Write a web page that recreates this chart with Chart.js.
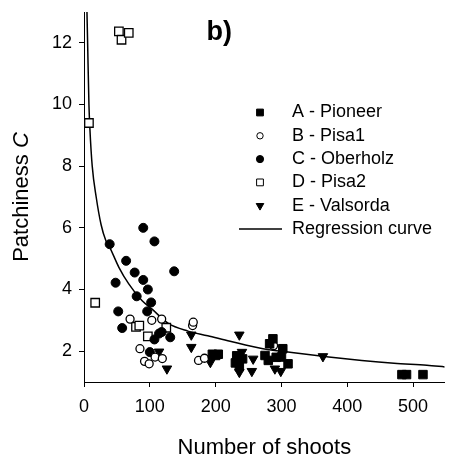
<!DOCTYPE html>
<html>
<head>
<meta charset="utf-8">
<script src="https://cdn.jsdelivr.net/npm/chart.js@4.4.1/dist/chart.umd.min.js"></script>
<style>
  body { margin: 0; background: #fff; }
  #wrap { width: 452px; height: 460px; }
</style>
</head>
<body>
<div id="wrap"><canvas id="myChart" width="452" height="460"></canvas></div>
<script>
// number of shoots (x) and patchiness C (y) for each site
var pioneerN = [195, 200, 204, 230, 232, 236, 241, 275, 280, 282, 287, 292, 300, 302, 310, 483, 490, 515];
var pioneerC = [1.9, 1.86, 1.9, 1.62, 1.85, 1.5, 1.75, 1.86, 1.7, 2.24, 2.4, 1.8, 1.81, 2.08, 1.59, 1.24, 1.24, 1.24];

var pisa1N = [70, 103, 118, 85, 92, 99, 108, 119, 165, 166, 174, 183, 288];
var pisa1C = [3.04, 3.0, 3.04, 2.08, 1.67, 1.59, 1.81, 1.76, 2.83, 2.94, 1.7, 1.77, 2.18];

var oberholzN = [39, 48, 52, 58, 64, 77, 80, 90, 90, 96, 97, 102, 100, 107, 107, 114, 118, 131, 137];
var oberholzC = [5.47, 4.22, 3.29, 2.75, 4.93, 4.55, 3.78, 6.0, 4.31, 3.29, 4.0, 3.58, 1.97, 5.56, 2.38, 2.57, 2.62, 2.45, 4.59];

var pisa2N = [7.5, 53, 57, 68, 17, 79, 84, 97, 125];
var pisa2C = [9.4, 12.37, 12.1, 12.32, 3.57, 2.79, 2.83, 2.48, 2.76];

var valsordaN = [114, 126, 163, 163, 192, 236, 240, 236, 255, 257, 290, 299, 363];
var valsordaC = [1.98, 1.43, 2.53, 2.13, 1.64, 2.53, 1.97, 1.32, 1.35, 1.75, 1.43, 1.35, 1.83];

// regression curve, traced point by point
var curveN = [4.5, 5.5, 7.5, 9, 12.5, 18.5, 26, 33, 38.4, 53, 68, 88, 103, 128, 158, 188, 222, 272, 322, 372, 422, 471, 521, 548];
var curveC = [13.0, 12.0, 10.0, 9.2, 8.0, 7.0, 6.1, 5.6, 5.4, 4.72, 4.18, 3.64, 3.37, 2.9, 2.65, 2.5, 2.32, 2.08, 1.94, 1.81, 1.70, 1.61, 1.54, 1.49];

var seriesLabels = ["A - Pioneer", "B - Pisa1", "C - Oberholz", "D - Pisa2", "E - Valsorda", "Regression curve"];
var xTicks = [0, 100, 200, 300, 400, 500];
var yTicks = [2, 4, 6, 8, 10, 12];
var xTitle = "Number of shoots";
var yTitle = "Patchiness ";
var yTitleItalic = "C";
var panelLabel = "b)";

var fontFamily = "Arial, 'Liberation Sans', sans-serif";

function pts(xs, ys) {
  return xs.map(function (x, i) {
    return { x: x, y: ys[i] };
  });
}

// legend, y title and panel letter drawn on top of the chart
var extras = {
  id: "extras",
  afterDraw: function (chart) {
    var ctx = chart.ctx;
    ctx.save();
    ctx.fillStyle = "#000";
    ctx.strokeStyle = "#000";
    ctx.textBaseline = "middle";

    // legend
    ctx.font = "18px " + fontFamily;
    chart.data.datasets.forEach(function (ds, i) {
      var y = 112.5 + i * 23.3;
      if (ds.showLine) {
        ctx.lineWidth = 1.5;
        ctx.beginPath();
        ctx.moveTo(239, y);
        ctx.lineTo(282, y);
        ctx.stroke();
      } else {
        ctx.fillStyle = ds.pointBackgroundColor;
        ctx.strokeStyle = "#000";
        Chart.helpers.drawPoint(ctx, {
          pointStyle: ds.pointStyle,
          rotation: ds.pointRotation || 0,
          radius: ds.pointRadius * 0.8,
          borderWidth: ds.pointBorderWidth
        }, 260, y);
      }
      ctx.fillStyle = "#000";
      ctx.textAlign = "left";
      ctx.fillText(ds.label, 292, y);
    });

    // panel letter
    ctx.font = "bold 27px " + fontFamily;
    ctx.textBaseline = "alphabetic";
    ctx.fillText(panelLabel, 206.5, 40);

    // y title with italic C
    ctx.textBaseline = "middle";
    ctx.translate(22, 197);
    ctx.rotate(-Math.PI / 2);
    ctx.font = "22px " + fontFamily;
    var w1 = ctx.measureText(yTitle).width;
    ctx.font = "italic 22px " + fontFamily;
    var w2 = ctx.measureText(yTitleItalic).width;
    var start = -(w1 + w2) / 2;
    ctx.font = "22px " + fontFamily;
    ctx.fillText(yTitle, start, 0);
    ctx.font = "italic 22px " + fontFamily;
    ctx.fillText(yTitleItalic, start + w1, 0);
    ctx.restore();
  }
};

var chartContext = document.getElementById("myChart").getContext("2d");

var chart = new Chart(chartContext, {
  type: "scatter",
  data: {
    datasets: [
      {
        label: seriesLabels[0],
        data: pts(pioneerN, pioneerC),
        pointStyle: "rect",
        pointRadius: 6,
        pointBackgroundColor: "#000",
        pointBorderColor: "#000",
        pointBorderWidth: 1
      },
      {
        label: seriesLabels[1],
        data: pts(pisa1N, pisa1C),
        pointStyle: "circle",
        pointRadius: 4,
        pointBackgroundColor: "#fff",
        pointBorderColor: "#000",
        pointBorderWidth: 1.3
      },
      {
        label: seriesLabels[2],
        data: pts(oberholzN, oberholzC),
        pointStyle: "circle",
        pointRadius: 4.5,
        pointBackgroundColor: "#000",
        pointBorderColor: "#000",
        pointBorderWidth: 1
      },
      {
        label: seriesLabels[3],
        data: pts(pisa2N, pisa2C),
        pointStyle: "rect",
        pointRadius: 6,
        pointBackgroundColor: "#fff",
        pointBorderColor: "#000",
        pointBorderWidth: 1.3
      },
      {
        label: seriesLabels[4],
        data: pts(valsordaN, valsordaC),
        pointStyle: "triangle",
        pointRotation: 180,
        pointRadius: 5.5,
        pointBackgroundColor: "#000",
        pointBorderColor: "#000",
        pointBorderWidth: 1
      },
      {
        label: seriesLabels[5],
        type: "line",
        data: pts(curveN, curveC),
        showLine: true,
        borderColor: "#000",
        borderWidth: 1.5,
        pointRadius: 0,
        fill: false,
        cubicInterpolationMode: "monotone"
      }
    ]
  },
  options: {
    responsive: false,
    animation: false,
    layout: { padding: { left: 0, right: 1, top: 12, bottom: 0 } },
    plugins: {
      legend: { display: false },
      tooltip: { enabled: false }
    },
    scales: {
      x: {
        type: "linear",
        min: 0,
        max: 548,
        afterBuildTicks: function (scale) {
          scale.ticks = xTicks.map(function (v) { return { value: v }; });
        },
        afterFit: function (scale) {
          scale.height = 78;
          scale.paddingLeft = 0;
          scale.paddingRight = 0;
        },
        grid: { display: true, drawOnChartArea: false, drawTicks: true, tickLength: 5, color: "#000" },
        border: { display: true, color: "#000", width: 1 },
        ticks: { color: "#000", font: { family: fontFamily, size: 18 }, padding: 9, maxRotation: 0 },
        title: { display: true, text: xTitle, color: "#000", font: { family: fontFamily, size: 22, lineHeight: 1 }, padding: { top: 0, bottom: 1 } }
      },
      y: {
        type: "linear",
        min: 1,
        max: 13,
        afterBuildTicks: function (scale) {
          scale.ticks = yTicks.map(function (v) { return { value: v }; });
        },
        afterFit: function (scale) {
          scale.width = 84;
          scale.paddingTop = 0;
          scale.paddingBottom = 0;
        },
        grid: { display: true, drawOnChartArea: false, drawTicks: true, tickLength: 5, color: "#000" },
        border: { display: true, color: "#000", width: 1 },
        ticks: { color: "#000", font: { family: fontFamily, size: 18 }, padding: 7 }
      }
    }
  },
  plugins: [extras]
});
</script>
</body>
</html>
